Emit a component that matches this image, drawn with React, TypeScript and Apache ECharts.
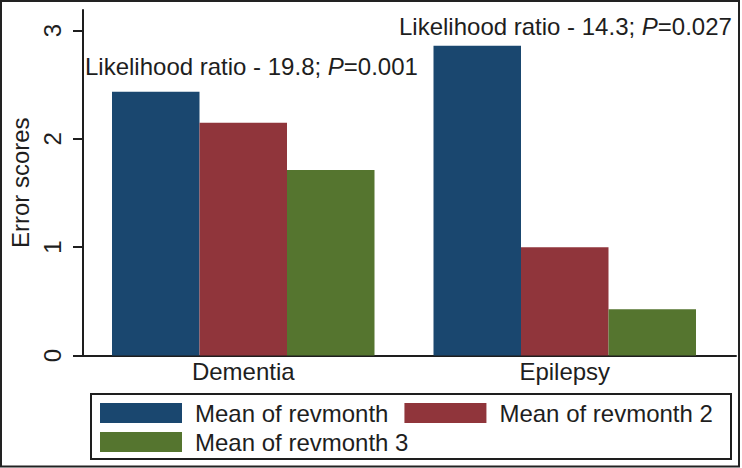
import React, { useEffect, useRef } from "react";
import * as echarts from "echarts";

const categories = ["Dementia", "Epilepsy"];
const seriesNames = ["Mean of revmonth", "Mean of revmonth 2", "Mean of revmonth 3"];
const revmonth = [2.435, 2.86];
const revmonth2 = [2.148, 1.0];
const revmonth3 = [1.713, 0.426];
const yTicks = [0, 1, 2, 3];
const yMax = 3.19;
const colors = ["#1a476f", "#90353b", "#55752f"];
const annotation1 = ["Likelihood ratio - 19.8; ", "P", "=0.001"];
const annotation2 = ["Likelihood ratio - 14.3; ", "P", "=0.027"];

const FONT = "'Liberation Sans', Arial, sans-serif";
const INK = "#1e1e1e";

export default function App() {
  const ref = useRef<HTMLDivElement>(null);
  useEffect(() => {
    document.body.style.margin = "0";
    const chart = echarts.init(ref.current!, null, { renderer: "svg" });
    const seriesData = [revmonth, revmonth2, revmonth3];
    const richText = (a: string[]) => `{n|${a[0]}}{i|${a[1]}}{n|${a[2]}}`;
    const rich = {
      n: { fontSize: 24, fontFamily: FONT, fill: INK, color: INK },
      i: { fontSize: 24, fontFamily: FONT, fontStyle: "italic", fill: INK, color: INK },
    };
    chart.setOption({
      animation: false,
      backgroundColor: "#ffffff",
      textStyle: { fontFamily: FONT, color: INK },
      grid: [
        { left: 73, right: 6, top: 10, bottom: 112.5 },
        { left: 82.5, right: 16.5, top: 10, bottom: 112.5 },
      ],
      xAxis: [
        {
          gridIndex: 0,
          type: "value",
          min: 0,
          max: 1,
          axisLine: { show: true, lineStyle: { color: INK, width: 2 } },
          axisTick: { show: false },
          axisLabel: { show: false },
          splitLine: { show: false },
        },
        {
          gridIndex: 1,
          type: "category",
          data: categories,
          axisLine: { show: false },
          axisTick: { show: false },
          axisLabel: { fontSize: 24, color: INK, fontFamily: FONT, margin: 4 },
        },
      ],
      yAxis: [
        {
          gridIndex: 0,
          type: "value",
          min: 0,
          max: yMax,
          name: "Error scores",
          nameLocation: "middle",
          nameRotate: 90,
          nameGap: 51,
          nameTextStyle: { fontSize: 24, color: INK, fontFamily: FONT },
          axisLine: { show: true, lineStyle: { color: INK, width: 2 } },
          axisTick: { show: true, length: 10, lineStyle: { color: INK, width: 2 }, customValues: yTicks },
          axisLabel: { rotate: 90, fontSize: 24, color: INK, fontFamily: FONT, margin: 19, customValues: yTicks },
          splitLine: { show: false },
        },
        {
          gridIndex: 1,
          type: "value",
          min: 0,
          max: yMax,
          show: false,
          splitLine: { show: false },
        },
      ],
      legend: [
        {
          data: [seriesNames[0], seriesNames[1]],
          left: 100,
          top: 401,
          padding: 0,
          itemWidth: 82,
          itemHeight: 20,
          itemGap: 16,
          icon: "rect",
          selectedMode: false,
          textStyle: { fontSize: 24, color: INK, fontFamily: FONT, padding: [0, 0, 0, 8] },
        },
        {
          data: [seriesNames[2]],
          left: 100,
          top: 430,
          padding: 0,
          itemWidth: 82,
          itemHeight: 20,
          itemGap: 16,
          icon: "rect",
          selectedMode: false,
          textStyle: { fontSize: 24, color: INK, fontFamily: FONT, padding: [0, 0, 0, 8] },
        },
      ],
      series: seriesNames.map((name, i) => ({
        name,
        type: "bar",
        xAxisIndex: 1,
        yAxisIndex: 1,
        data: seriesData[i],
        barWidth: 87.5,
        barGap: "0%",
        itemStyle: { color: colors[i] },
      })),
      graphic: [
        {
          type: "rect",
          shape: { x: 1, y: 1, width: 738, height: 465.5 },
          style: { fill: "none", stroke: "#222", lineWidth: 2 },
          silent: true,
        },
        {
          type: "rect",
          shape: { x: 91, y: 394, width: 640, height: 65 },
          style: { fill: "none", stroke: INK, lineWidth: 2 },
          silent: true,
        },
        {
          type: "text",
          x: 85,
          y: 66.7,
          style: { text: richText(annotation1), rich, verticalAlign: "middle", align: "left", fontSize: 24, fontFamily: FONT, fill: INK },
        },
        {
          type: "text",
          x: 399,
          y: 26,
          style: { text: richText(annotation2), rich, verticalAlign: "middle", align: "left", fontSize: 24, fontFamily: FONT, fill: INK },
        },
      ],
    });
    return () => chart.dispose();
  }, []);
  return <div ref={ref} style={{ width: 742, height: 468 }} />;
}
